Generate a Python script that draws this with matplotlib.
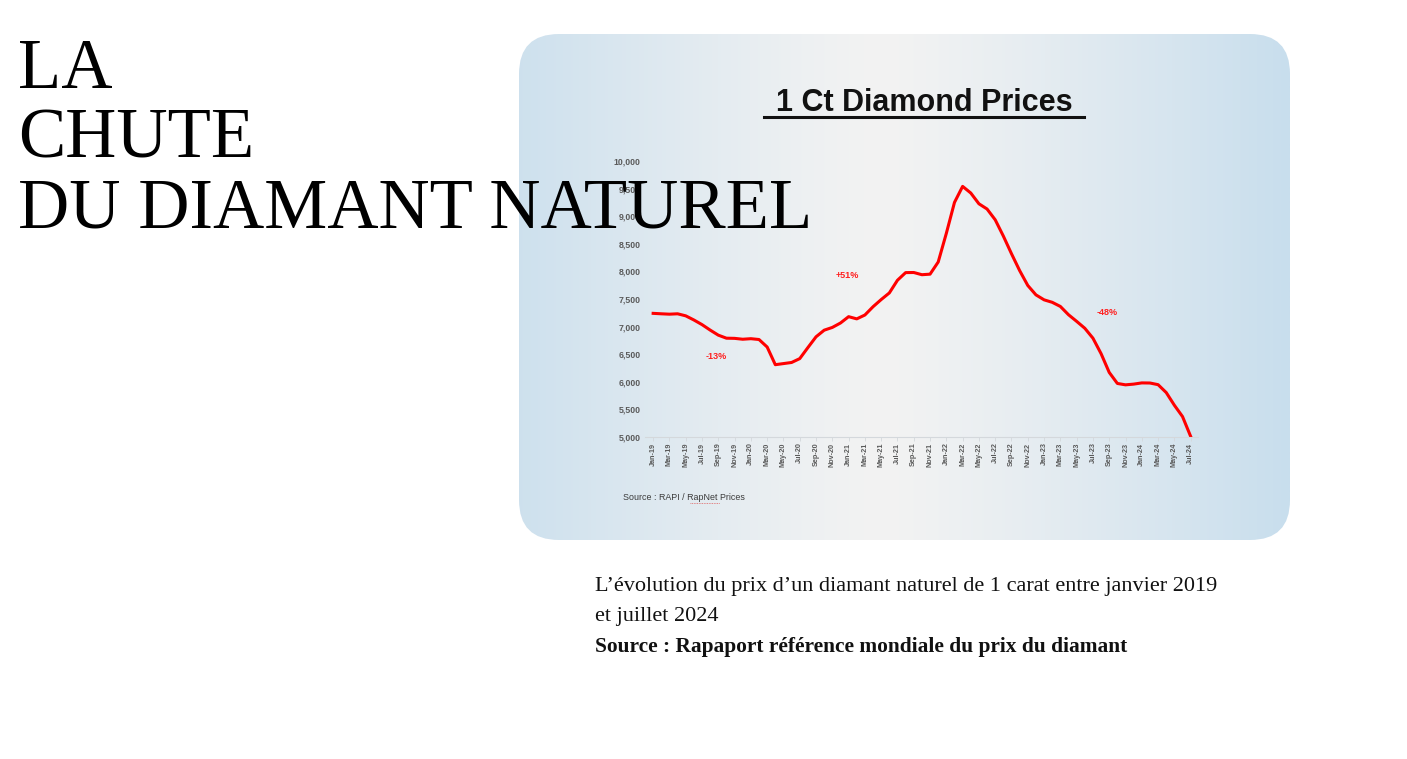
import numpy as np
import matplotlib.pyplot as plt
from matplotlib.patches import FancyBboxPatch

# monthly 1 ct prices, Jan-19 .. Jul-24
prices = [7240, 7232, 7225, 7232, 7195, 7120, 7036, 6937, 6845, 6790, 6787, 6771,
          6781, 6766, 6630, 6310, 6330, 6350, 6420, 6620, 6815, 6935, 6985, 7065,
          7180, 7140, 7210, 7360, 7490, 7610, 7840, 7978, 7980, 7940, 7950, 8170,
          8690, 9250, 9540, 9420, 9225, 9130, 8935, 8640, 8320, 8015, 7745, 7575,
          7485, 7440, 7365, 7215, 7095, 6970, 6790, 6510, 6170, 5970, 5945, 5958,
          5980, 5978, 5948, 5805, 5575, 5370, 5010]
tick_labels = ['Jan-19', 'Mar-19', 'May-19', 'Jul-19', 'Sep-19', 'Nov-19',
               'Jan-20', 'Mar-20', 'May-20', 'Jul-20', 'Sep-20', 'Nov-20',
               'Jan-21', 'Mar-21', 'May-21', 'Jul-21', 'Sep-21', 'Nov-21',
               'Jan-22', 'Mar-22', 'May-22', 'Jul-22', 'Sep-22', 'Nov-22',
               'Jan-23', 'Mar-23', 'May-23', 'Jul-23', 'Sep-23', 'Nov-23',
               'Jan-24', 'Mar-24', 'May-24', 'Jul-24']
y_ticks = [5000, 5500, 6000, 6500, 7000, 7500, 8000, 8500, 9000, 9500, 10000]
# (month index, price level, text)
notes = [(7.8, 6450, '-13%'), (23.9, 7930, '+51%'), (55.8, 7250, '-48%')]

W, H = 1407, 759
fig = plt.figure(figsize=(W / 100, H / 100), dpi=100, facecolor='white')

# background layer in pixel coordinates
bg = fig.add_axes([0, 0, 1, 1])
bg.set_xlim(0, W)
bg.set_ylim(H, 0)
bg.axis('off')

# rounded panel with a blue - grey - blue horizontal gradient
edge = np.array([200, 222, 237]) / 255
mid = np.array([243, 243, 243]) / 255
t = np.linspace(0, 1, 400)
d = np.abs(t - 0.47) / 0.53
grad = mid[None, :] + (edge - mid)[None, :] * d[:, None] ** 1.2
img = bg.imshow(grad[None, :, :], extent=[519, 1290, 540, 34], aspect='auto', zorder=1)
panel = FancyBboxPatch((519, 34), 771, 506, boxstyle='round,pad=0,rounding_size=40',
                       facecolor='none', edgecolor='none', transform=bg.transData)
bg.add_patch(panel)
img.set_clip_path(panel)
bg.set_xlim(0, W)
bg.set_ylim(H, 0)

# chart title, underlined
bg.text(924, 111, '1 Ct Diamond Prices', ha='center', va='baseline', fontsize=22,
        fontweight='bold', family='Liberation Sans', color='#111111', zorder=3)
bg.plot([764, 1084], [117, 117], color='#111111', lw=2.2, zorder=3)

# source line inside the panel
bg.text(623, 497, 'Source : RAPI / RapNet Prices', ha='left', va='center', fontsize=6.4,
        family='Liberation Sans', color='#3a3a3a', zorder=3)
bg.plot([690, 720], [503, 503], color='#e06060', lw=0.6, ls=(0, (1, 1)), zorder=3)

# the price chart
ax = fig.add_axes([645 / W, (H - 437) / H, (1198 - 645) / W, (437 - 161) / H])
ax.patch.set_alpha(0)
x = np.arange(len(prices))
ax.plot(x, prices, color='#ff0000', lw=2.2, solid_joinstyle='round')
ax.set_xlim(-1.0, 66.9)
ax.set_ylim(5000, 10000)
ax.set_yticks(y_ticks)
ax.set_yticklabels([f'{v:,}' for v in y_ticks])
ax.set_xticks(np.arange(0, len(prices), 2))
ax.set_xticklabels(tick_labels, rotation=90)
for s in ['top', 'right', 'left']:
    ax.spines[s].set_visible(False)
ax.spines['bottom'].set_color('#d4d8dc')
ax.spines['bottom'].set_linewidth(0.8)
ax.tick_params(axis='y', length=0, pad=3, labelsize=6.3, labelcolor='#5a5a5a')
ax.tick_params(axis='x', length=3, width=0.6, color='#d4d8dc', pad=1,
               labelsize=5.2, labelcolor='#5a5a5a')
for lab in ax.get_xticklabels() + ax.get_yticklabels():
    lab.set_family('Liberation Sans')
    lab.set_fontweight('bold')
for xi, yi, txt in notes:
    ax.text(xi, yi, txt, ha='center', va='center', fontsize=6.5, fontweight='bold',
            family='Liberation Sans', color='#ff2020')

# big page title, drawn over the panel
for line, base in [('LA', 88), ('CHUTE', 158), ('DU DIAMANT NATUREL', 228)]:
    fig.text(18 / W, 1 - base / H, line, ha='left', va='baseline', fontsize=51,
             family='Liberation Serif', color='black', zorder=10)

# caption under the panel
fig.text(595 / W, 1 - 591 / H,
         'L\u2019évolution du prix d\u2019un diamant naturel de 1 carat entre janvier 2019',
         ha='left', va='baseline', fontsize=16, family='Liberation Serif', color='#111111')
fig.text(595 / W, 1 - 621 / H, 'et juillet 2024', ha='left', va='baseline', fontsize=16,
         family='Liberation Serif', color='#111111')
fig.text(595 / W, 1 - 652 / H, 'Source : Rapaport référence mondiale du prix du diamant',
         ha='left', va='baseline', fontsize=15.4, fontweight='bold',
         family='Liberation Serif', color='#111111')

fig.savefig('out.png', dpi=100, facecolor='white')
